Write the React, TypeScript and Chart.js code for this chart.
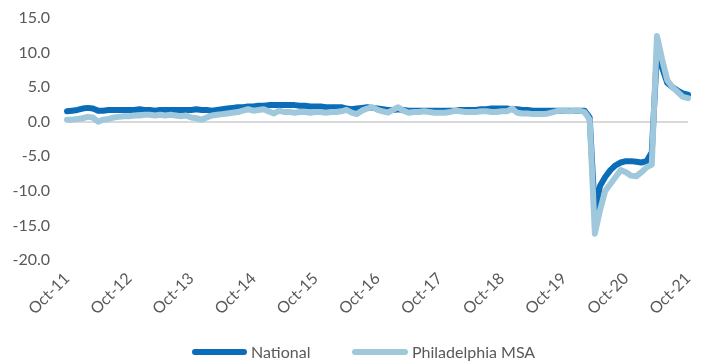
import React, { useEffect, useRef } from 'react';
import { Chart, registerables } from 'chart.js';

Chart.register(...registerables);

// ---- Data ----
const MONTH_NAMES = ['Jan', 'Feb', 'Mar', 'Apr', 'May', 'Jun', 'Jul', 'Aug', 'Sep', 'Oct', 'Nov', 'Dec'];
const START_YEAR = 2011;
const START_MONTH = 9; // October
const MONTH_COUNT = 121; // Oct-11 .. Oct-21
const TICK_MONTH = 'Oct';

const categories: string[] = [];
for (let i = 0; i < MONTH_COUNT; i++) {
  const m = (START_MONTH + i) % 12;
  const y = START_YEAR + Math.floor((START_MONTH + i) / 12);
  categories.push(`${MONTH_NAMES[m]}-${String(y).slice(2)}`);
}

const national = [
  1.5, 1.6, 1.7, 1.9, 2.0, 1.9, 1.6, 1.6, 1.7, 1.7, 1.7, 1.7,
  1.7, 1.7, 1.8, 1.7, 1.7, 1.6, 1.7, 1.7, 1.7, 1.7, 1.7, 1.7,
  1.7, 1.8, 1.7, 1.7, 1.6, 1.7, 1.8, 1.9, 2.0, 2.1, 2.1, 2.2,
  2.2, 2.3, 2.3, 2.4, 2.4, 2.4, 2.4, 2.4, 2.4, 2.3, 2.3, 2.2,
  2.2, 2.2, 2.1, 2.1, 2.1, 2.1, 1.9, 1.8, 1.9, 2.0, 2.1, 2.0,
  1.9, 1.8, 1.7, 1.7, 1.8, 1.7, 1.6, 1.6, 1.6, 1.6, 1.6, 1.6,
  1.6, 1.6, 1.6, 1.6, 1.7, 1.7, 1.7, 1.7, 1.8, 1.8, 1.9, 1.9,
  1.9, 1.9, 1.8, 1.8, 1.7, 1.7, 1.6, 1.6, 1.6, 1.6, 1.6, 1.6,
  1.6, 1.6, 1.6, 1.6, 1.6, 0.6, -13.2, -9.3, -8.0, -7.0, -6.3, -5.9,
  -5.7, -5.7, -5.8, -5.9, -5.7, -4.4, 10.0, 7.8, 5.6, 5.0, 4.5, 4.1,
  3.9,
];

const philadelphia = [
  0.3, 0.3, 0.4, 0.5, 0.7, 0.6, 0.0, 0.3, 0.4, 0.6, 0.7, 0.8,
  0.8, 0.9, 0.9, 1.0, 1.0, 0.9, 1.0, 0.9, 1.0, 0.9, 0.8, 0.9,
  0.6, 0.5, 0.3, 0.6, 0.9, 1.0, 1.1, 1.2, 1.3, 1.4, 1.6, 1.8,
  1.6, 1.7, 1.8, 1.5, 1.2, 1.6, 1.4, 1.4, 1.3, 1.4, 1.4, 1.3,
  1.4, 1.4, 1.3, 1.4, 1.4, 1.5, 1.7, 1.3, 1.1, 1.6, 1.9, 2.1,
  1.7, 1.5, 1.3, 1.7, 2.1, 1.6, 1.3, 1.4, 1.4, 1.5, 1.4, 1.3,
  1.3, 1.3, 1.4, 1.6, 1.5, 1.4, 1.4, 1.4, 1.5, 1.5, 1.4, 1.4,
  1.5, 1.5, 1.9, 1.3, 1.2, 1.2, 1.1, 1.1, 1.1, 1.2, 1.4, 1.6,
  1.6, 1.5, 1.6, 1.6, 1.4, 0.3, -16.2, -12.8, -10.0, -9.0, -8.0, -7.0,
  -7.3, -7.8, -7.9, -7.3, -6.6, -6.2, 12.4, 9.0, 6.0, 5.0, 4.3, 3.6,
  3.4,
];

const SERIES_NAMES = ['National', 'Philadelphia MSA'];
const Y_MIN = -20;
const Y_MAX = 15;
const Y_STEP = 5;

const COLOR_NATIONAL = '#0B6DB8';
const COLOR_PHILLY = '#A0C8DD';
const TEXT_COLOR = '#595959';
const FONT = 'Lato, "Open Sans", sans-serif';
const FONT_SIZE = 16;

export default function App() {
  const canvasRef = useRef<HTMLCanvasElement | null>(null);

  useEffect(() => {
    if (!canvasRef.current) return;
    const chart = new Chart(canvasRef.current, {
      type: 'line',
      data: {
        labels: categories,
        datasets: [
          {
            label: SERIES_NAMES[0],
            data: national,
            borderColor: COLOR_NATIONAL,
            backgroundColor: COLOR_NATIONAL,
            borderWidth: 6,
            pointRadius: 0,
            tension: 0,
            borderJoinStyle: 'round',
            borderCapStyle: 'round',
            order: 1,
          },
          {
            label: SERIES_NAMES[1],
            data: philadelphia,
            borderColor: COLOR_PHILLY,
            backgroundColor: COLOR_PHILLY,
            borderWidth: 6,
            pointRadius: 0,
            tension: 0,
            borderJoinStyle: 'round',
            borderCapStyle: 'round',
            order: 0,
          },
        ],
      },
      options: {
        animation: false,
        responsive: false,
        maintainAspectRatio: false,
        layout: { padding: { top: 18, right: 15, bottom: 0, left: 0 } },
        plugins: {
          legend: { display: false },
          tooltip: { enabled: false },
        },
        scales: {
          x: {
            type: 'category',
            grid: { display: false, drawTicks: false },
            border: { display: false },
            ticks: {
              autoSkip: false,
              minRotation: 45,
              maxRotation: 45,
              padding: 9,
              color: TEXT_COLOR,
              font: { family: FONT, size: FONT_SIZE },
              callback: (_v: any, i: number) =>
                categories[i].startsWith(TICK_MONTH) ? categories[i] : '',
            },
            afterFit: (scale: any) => {
              scale.height = 104;
              scale.paddingLeft = 0;
              scale.paddingRight = 0;
            },
          },
          y: {
            min: Y_MIN,
            max: Y_MAX,
            grid: {
              drawTicks: false,
              color: (ctx: any) => (ctx.tick && ctx.tick.value === 0 ? '#D9D9D9' : 'rgba(0,0,0,0)'),
              lineWidth: 2,
            },
            border: { display: false },
            ticks: {
              stepSize: Y_STEP,
              padding: 17,
              color: TEXT_COLOR,
              font: { family: FONT, size: FONT_SIZE },
              callback: (v: any) => Number(v).toFixed(1),
            },
            afterFit: (scale: any) => {
              scale.width = 67;
              scale.paddingTop = 0;
              scale.paddingBottom = 0;
            },
          },
        },
      },
    });
    return () => chart.destroy();
  }, []);

  const legendText: React.CSSProperties = {
    position: 'absolute',
    top: 342,
    fontFamily: FONT,
    fontSize: 16,
    color: TEXT_COLOR,
    lineHeight: '20px',
    whiteSpace: 'nowrap',
  };
  const swatch = (left: number, width: number, color: string): React.CSSProperties => ({
    position: 'absolute',
    left,
    top: 349,
    width,
    height: 6,
    borderRadius: 3,
    background: color,
  });

  return (
    <div style={{ position: 'absolute', left: 0, top: 0, width: 703, height: 364, background: '#fff' }}>
      <canvas ref={canvasRef} width={703} height={364} style={{ position: 'absolute', left: 0, top: 0 }} />
      <div style={swatch(192, 55, COLOR_NATIONAL)} />
      <div style={{ ...legendText, left: 251 }}>{SERIES_NAMES[0]}</div>
      <div style={swatch(352, 56, COLOR_PHILLY)} />
      <div style={{ ...legendText, left: 412 }}>{SERIES_NAMES[1]}</div>
    </div>
  );
}
